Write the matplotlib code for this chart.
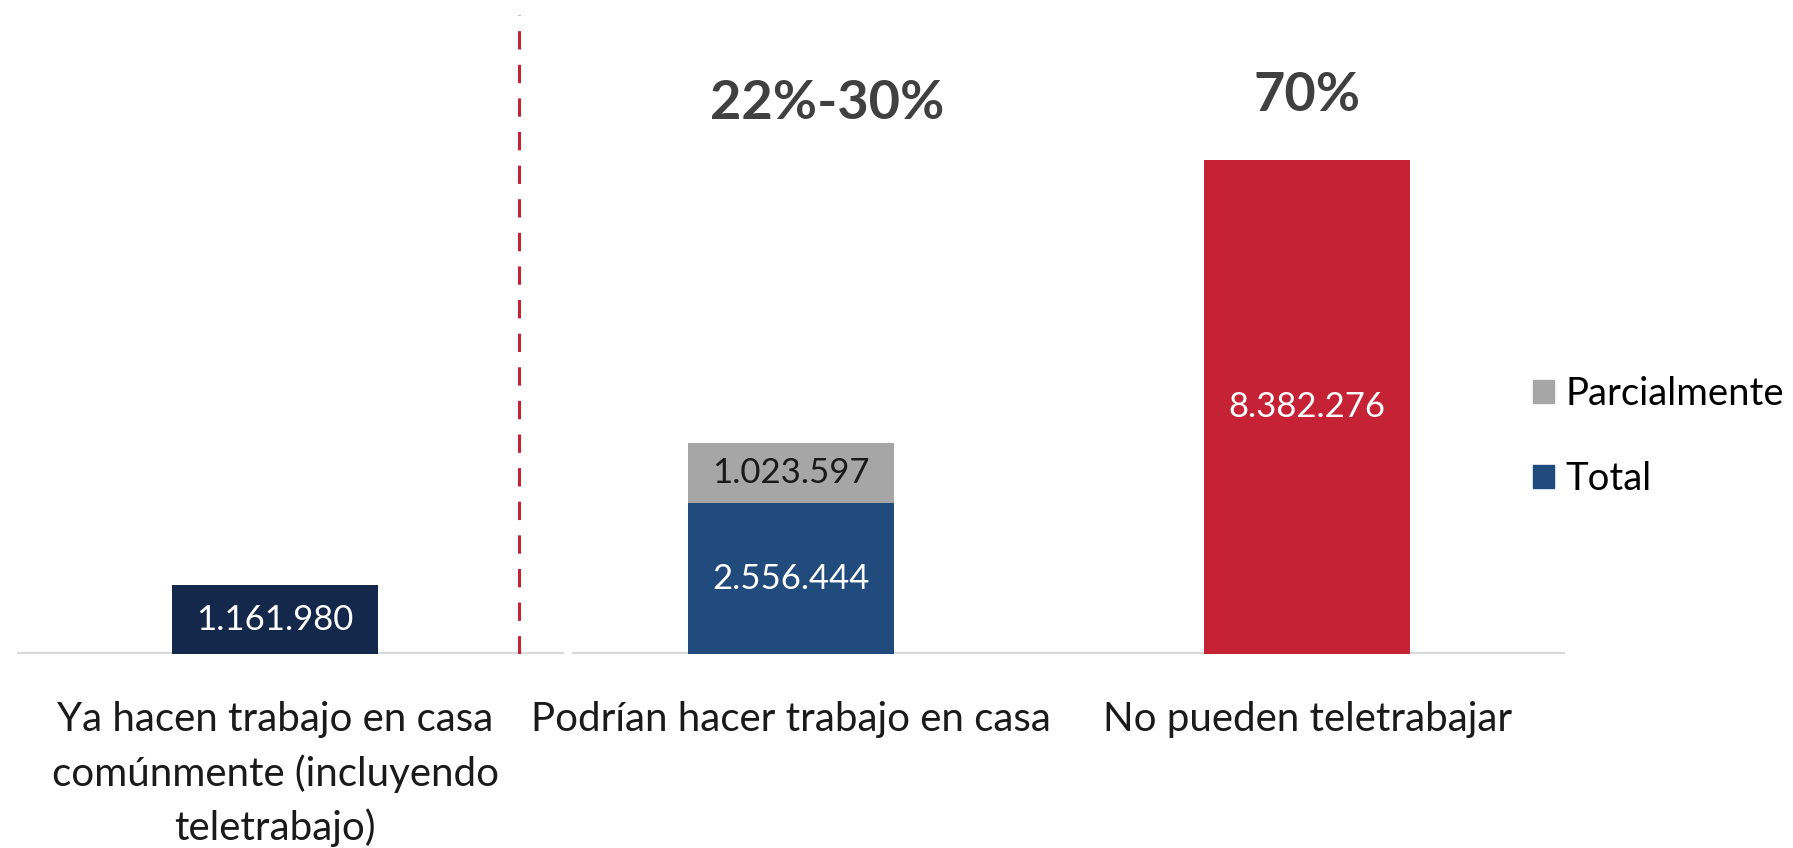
import matplotlib
matplotlib.use("Agg")
import matplotlib.pyplot as plt
from matplotlib.patches import Patch

plt.rcParams["font.family"] = ["Lato", "DejaVu Sans"]

# Personas ocupadas según posibilidad de trabajo en casa
categorias = ["Ya hacen trabajo en casa\ncomúnmente (incluyendo\nteletrabajo)",
              "Podrían hacer trabajo en casa",
              "No pueden teletrabajar"]
ya_hacen = [1161980, 0, 0]
total = [0, 2556444, 0]
parcial = [0, 1023597, 0]
no_pueden = [0, 0, 8382276]
porcentajes = {1: "22%-30%", 2: "70%"}

NAVY = "#13284a"
BLUE = "#214a7d"
GRAY = "#a6a6a6"
RED = "#c62236"


def fmt(v):
    return f"{v:,}".replace(",", ".")


fig = plt.figure(figsize=(17.93, 8.48), dpi=100)
ax = fig.add_axes([0.0095, 0.229, 0.8635, 0.771])

x = range(len(categorias))
w = 0.4
ax.bar(x, ya_hacen, width=w, color=NAVY)
ax.bar(x, total, width=w, color=BLUE)
ax.bar(x, parcial, width=w, bottom=total, color=GRAY)
ax.bar(x, no_pueden, width=w, color=RED)

ax.set_xlim(-0.5, 2.5)
ax.set_ylim(0, 11.1e6)

# etiquetas de valor dentro de cada segmento
vals_fs = 25
ax.text(0, ya_hacen[0] / 2, fmt(ya_hacen[0]), ha="center", va="center",
        color="white", fontsize=vals_fs)
ax.text(1, total[1] / 2, fmt(total[1]), ha="center", va="center",
        color="white", fontsize=vals_fs)
ax.text(1, total[1] + parcial[1] / 2, fmt(parcial[1]), ha="center",
        va="center", color="#1a1a1a", fontsize=vals_fs)
ax.text(2, no_pueden[2] / 2, fmt(no_pueden[2]), ha="center", va="center",
        color="white", fontsize=vals_fs)

ax.text(1.07, 9.35e6, porcentajes[1], ha="center", va="center",
        fontsize=39, fontweight="bold", color="#404040")
ax.text(2, 9.48e6, porcentajes[2], ha="center", va="center",
        fontsize=39, fontweight="bold", color="#404040")

# separador entre quienes ya trabajan en casa y el resto
ax.plot([0.473, 0.473], [0, 10.85e6], color=RED, lw=2.2, ls=(0, (6, 5)))

# eje horizontal en dos tramos
ax.plot([-0.5, 0.56], [0, 0], color="#d9d9d9", lw=3, zorder=0,
        solid_capstyle="butt")
ax.plot([0.575, 2.5], [0, 0], color="#d9d9d9", lw=3, zorder=0,
        solid_capstyle="butt")

for s in ax.spines.values():
    s.set_visible(False)
ax.set_yticks([])
ax.set_xticks(list(x))
ax.set_xticklabels(categorias, fontsize=29, color="#1a1a1a", linespacing=1.5)
ax.tick_params(axis="x", length=0, pad=34)

handles = [Patch(color=GRAY, label="Parcialmente"),
           Patch(color=BLUE, label="Total")]
fig.legend(handles=handles, loc="center left", bbox_to_anchor=(0.836, 0.485),
           frameon=False, fontsize=27.5, handlelength=0.55, handleheight=0.55,
           handletextpad=0.3, labelspacing=1.27)

fig.savefig("out.png", dpi=100)
